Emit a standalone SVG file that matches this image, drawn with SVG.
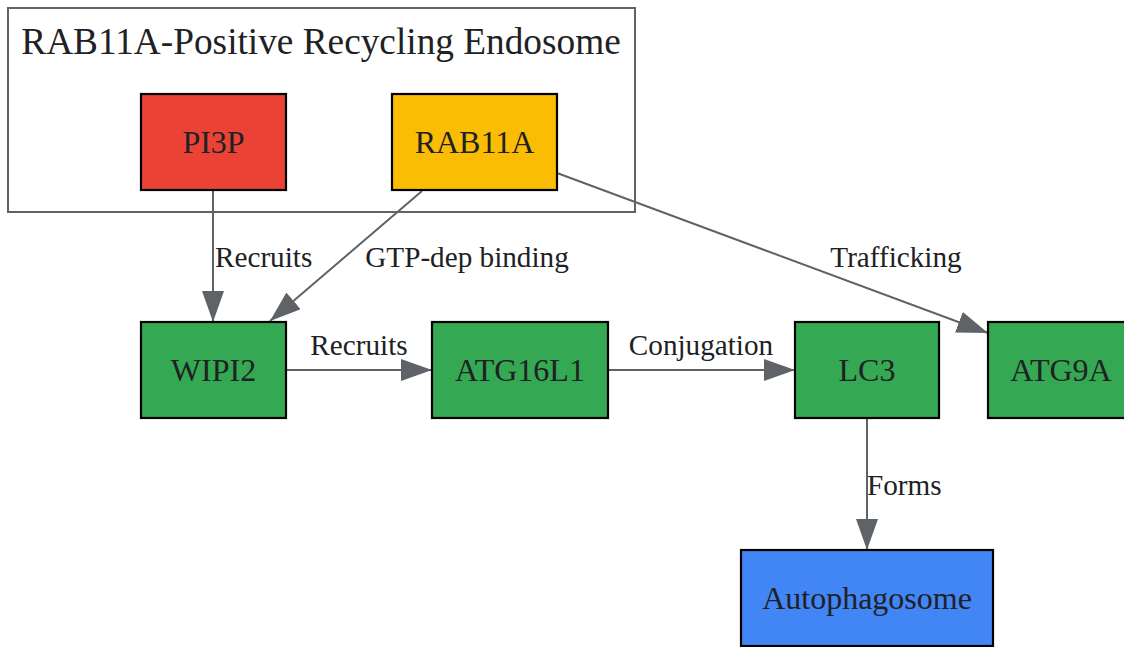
<svg xmlns="http://www.w3.org/2000/svg" width="1124" height="647" viewBox="0 0 1124 647">
<style>
.node rect{stroke:#000;stroke-width:2.2}
.node text{font-family:"Liberation Serif",serif;font-size:32px;fill:#202124;text-anchor:middle}
.edge{stroke:#5f6368;stroke-width:2;fill:none;marker-end:url(#arr)}
.lbl{font-family:"Liberation Serif",serif;font-size:29.2px;fill:#202124}
.cluster{fill:none;stroke:#5f6368;stroke-width:2}
</style>
<defs>
<marker id="arr" markerUnits="userSpaceOnUse" markerWidth="31" markerHeight="22" refX="31" refY="11" orient="auto">
<path d="M0,0 L31,11 L0,22 z" fill="#5f6368"/>
</marker>
</defs>
<rect width="1124" height="647" fill="#fff"/>
<g id="cluster_endosome">
<rect class="cluster" x="8" y="8" width="627" height="204"/>
<text x="321" y="54" style="font-family:'Liberation Serif',serif;font-size:37.3px;fill:#202124;text-anchor:middle">RAB11A-Positive Recycling Endosome</text>
</g>
<g id="connectors">
<line class="edge" x1="213" y1="190" x2="213" y2="322"/>
<line class="edge" x1="422" y1="191" x2="270" y2="321"/>
<line class="edge" x1="557" y1="173" x2="988" y2="333"/>
<line class="edge" x1="286" y1="370" x2="432" y2="370"/>
<line class="edge" x1="608" y1="370" x2="795" y2="370"/>
<line class="edge" x1="867" y1="418" x2="867" y2="550"/>
<text class="lbl" x="215" y="267">Recruits</text>
<text class="lbl" x="467" y="267" text-anchor="middle">GTP-dep binding</text>
<text class="lbl" x="896" y="267" text-anchor="middle">Trafficking</text>
<text class="lbl" x="359" y="355" text-anchor="middle">Recruits</text>
<text class="lbl" x="701" y="355" text-anchor="middle">Conjugation</text>
<text class="lbl" x="867" y="495">Forms</text>
</g>
<g id="PI3P" class="node"><rect x="141" y="94" width="145" height="96" fill="#EA4335"/><text x="213.5" y="153">PI3P</text></g>
<g id="RAB11A" class="node"><rect x="392" y="94" width="165" height="96" fill="#FBBC04"/><text x="474.5" y="153">RAB11A</text></g>
<g id="WIPI2" class="node"><rect x="141" y="322" width="145" height="96" fill="#34A853"/><text x="213.5" y="381">WIPI2</text></g>
<g id="ATG16L1" class="node"><rect x="432" y="322" width="176" height="96" fill="#34A853"/><text x="520" y="381">ATG16L1</text></g>
<g id="LC3" class="node"><rect x="795" y="322" width="144" height="96" fill="#34A853"/><text x="867" y="381">LC3</text></g>
<g id="ATG9A" class="node"><rect x="988" y="322" width="146" height="96" fill="#34A853"/><text x="1061" y="381">ATG9A</text></g>
<g id="Autophagosome" class="node"><rect x="741" y="550" width="252" height="96" fill="#4285F4"/><text x="867" y="609">Autophagosome</text></g>
</svg>
